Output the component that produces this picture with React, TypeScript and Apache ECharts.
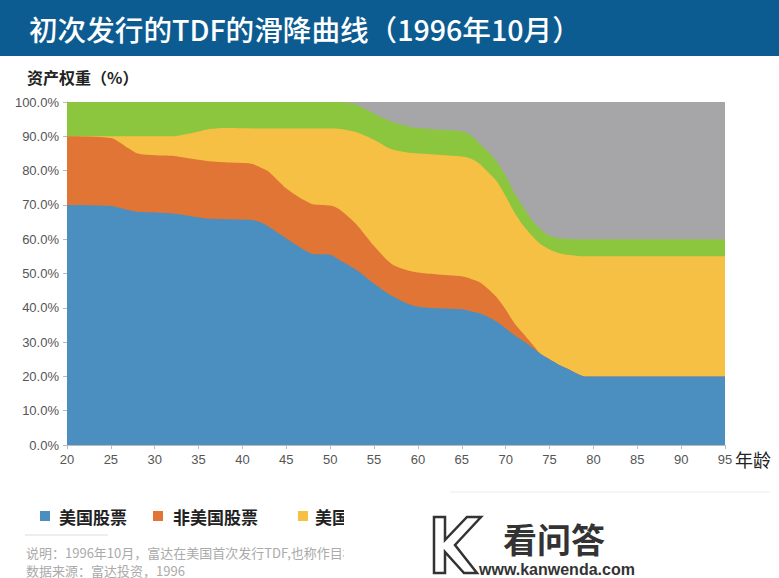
import React, { useEffect, useRef } from "react";
import * as echarts from "echarts";

const ages = [20, 25, 27, 28, 30, 32, 34, 36, 38, 41, 42, 43, 45, 47, 48, 50, 51, 53, 55, 57, 59, 60, 62, 65, 66, 67, 68, 69, 70, 71, 72, 73, 74, 75, 76, 77, 78, 79, 80, 85, 90, 95];
const usStocks = [70, 69.7, 68.5, 68, 67.8, 67.5, 66.8, 66, 65.8, 65.6, 65, 63.6, 60.2, 56.9, 55.7, 55.5, 54, 51, 47, 43.5, 41, 40.3, 39.9, 39.6, 39, 38.4, 37.3, 35.9, 34, 32, 30.3, 28.5, 26.5, 25, 23.5, 22.3, 21, 20, 20, 20, 20, 20];
const nonUsStocks = [20, 19.8, 18, 17, 16.7, 16.8, 16.7, 16.8, 16.6, 16.4, 16, 16.1, 14.6, 14.5, 14.5, 14.3, 14.8, 13.3, 11, 9.3, 9.8, 10, 9.9, 9.6, 9.5, 9.1, 8.2, 7.1, 5.5, 3.5, 2.2, 1, 0, 0, 0, 0, 0, 0, 0, 0, 0, 0];
const usBonds = [0, 0.5, 3.5, 5, 5.5, 5.7, 7.3, 9.2, 10, 10.3, 11.3, 12.6, 17.5, 20.9, 22.1, 22.5, 23.4, 26.9, 31, 33.4, 34.4, 34.7, 34.9, 34.9, 35, 34.5, 34, 33.8, 33, 32.3, 31.5, 31.5, 32, 32, 32.5, 33.2, 34.2, 35, 35, 35, 35, 35];
const shortTerm = [10, 10, 10, 10, 10, 10, 9.2, 8, 7.6, 7.7, 7.7, 7.7, 7.7, 7.7, 7.7, 7.7, 7.8, 8, 7.6, 8.1, 7.6, 7.4, 7.3, 7.4, 6.9, 6, 6, 5.8, 6, 5.7, 5.5, 4.5, 4.3, 4, 4.3, 4.6, 4.8, 5, 5, 5, 5, 5];
const others = [0, 0, 0, 0, 0, 0, 0, 0, 0, 0, 0, 0, 0, 0, 0, 0, 0, 0.8, 3.4, 5.7, 7.2, 7.6, 8, 8.5, 9.6, 12, 14.5, 17.4, 21.5, 26.5, 30.5, 34.5, 37.2, 39, 39.7, 39.9, 40, 40, 40, 40, 40, 40];

const seriesNames = ["美国股票", "非美国股票", "美国债券", "短期投资", "其他"];
const seriesColors = ["#4a8fbf", "#e07535", "#f6c044", "#8cc63f", "#a6a6a8"];
const legendNames = ["美国股票", "非美国股票", "美国债券"];

const titleText = "初次发行的TDF的滑降曲线（1996年10月）";
const yTitle = "资产权重（%）";
const xTitle = "年龄";
const note1 = "说明：1996年10月，富达在美国首次发行TDF,也称作目标日期基金";
const note2 = "数据来源：富达投资，1996";

const CJK = '"Noto Sans CJK SC", "Noto Sans", sans-serif';
const LAT = '"Liberation Sans", Arial, sans-serif';

export default function App() {
  const ref = useRef<HTMLDivElement>(null);
  useEffect(() => {
    if (!ref.current) return;
    const chart = echarts.init(ref.current, undefined, { renderer: "svg" });
    const dataSets = [usStocks, nonUsStocks, usBonds, shortTerm, others];
    // cumulative tops, computed from the component arrays
    const cumulative: number[][] = [];
    dataSets.forEach((arr, i) => {
      cumulative.push(arr.map((v, j) => +(v + (i > 0 ? cumulative[i - 1][j] : 0)).toFixed(2)));
    });
    // draw topmost first so lower layers sit on top
    const series = dataSets
      .map((_, i) => ({
        name: seriesNames[i],
        type: "line",
        smooth: 0.25,
        symbol: "none",
        z: 10 - i,
        lineStyle: { width: 0 },
        areaStyle: { color: seriesColors[i], opacity: 1, origin: "start" },
        itemStyle: { color: seriesColors[i] },
        data: ages.map((a, j) => [a, cumulative[i][j]]),
      }))
      .reverse();

    const legendX = [[40, 59], [153, 173], [298, 315]];
    const legendGraphics: any[] = [];
    legendNames.forEach((n, i) => {
      legendGraphics.push({
        type: "rect",
        shape: { x: legendX[i][0], y: 511, width: 10, height: 10 },
        style: { fill: seriesColors[i] },
        z: 100,
      });
      legendGraphics.push({
        type: "text",
        x: legendX[i][1],
        y: 516,
        style: { text: n, fill: "#222", font: `bold 17px ${CJK}`, textVerticalAlign: "middle" },
        z: 100,
      });
    });

    chart.setOption({
      animation: false,
      backgroundColor: "#ffffff",
      grid: { left: 67, right: 54, top: 102, bottom: 133 },
      xAxis: {
        type: "value",
        min: 20,
        max: 95,
        interval: 5,
        axisLine: { show: true, onZero: false, lineStyle: { color: "#bbbbbb" } },
        axisTick: { show: true, length: 4, lineStyle: { color: "#bbbbbb" } },
        axisLabel: { color: "#555", fontSize: 13, fontFamily: LAT, margin: 8 },
        splitLine: { show: false },
      },
      yAxis: {
        type: "value",
        min: 0,
        max: 100,
        interval: 10,
        axisLine: { show: true, onZero: false, lineStyle: { color: "#bbbbbb" } },
        axisTick: { show: true, length: 4, lineStyle: { color: "#bbbbbb" } },
        axisLabel: {
          color: "#555",
          fontSize: 13,
          fontFamily: LAT,
          margin: 8,
          formatter: (v: number) => v.toFixed(1) + "%",
        },
        splitLine: { show: false },
      },
      series,
      graphic: [
        { type: "rect", shape: { x: 0, y: 0, width: 779, height: 56 }, style: { fill: "#0d5c91" }, z: 100 },
        {
          type: "text",
          x: 29,
          y: 28,
          style: { text: titleText, fill: "#ffffff", font: `500 28.6px ${CJK}`, textVerticalAlign: "middle" },
          z: 101,
        },
        {
          type: "text",
          x: 27,
          y: 77,
          style: { text: yTitle, fill: "#222", font: `bold 16px ${CJK}`, textVerticalAlign: "middle" },
          z: 100,
        },
        {
          type: "text",
          x: 735,
          y: 459,
          style: { text: xTitle, fill: "#222", font: `18px ${CJK}`, textVerticalAlign: "middle" },
          z: 100,
        },
        ...legendGraphics,
        { type: "line", shape: { x1: 25, y1: 535, x2: 108, y2: 535 }, style: { stroke: "#dddddd", lineWidth: 1 }, z: 100 },
        {
          type: "text",
          x: 26,
          y: 552,
          style: { text: note1, fill: "#aaaaaa", font: `13px ${CJK}`, textVerticalAlign: "middle" },
          z: 100,
        },
        {
          type: "text",
          x: 26,
          y: 570,
          style: { text: note2, fill: "#aaaaaa", font: `13px ${CJK}`, textVerticalAlign: "middle" },
          z: 100,
        },
        { type: "rect", shape: { x: 344, y: 493, width: 435, height: 85 }, style: { fill: "#ffffff" }, z: 110 },
        { type: "line", shape: { x1: 450, y1: 492, x2: 770, y2: 492 }, style: { stroke: "#f6f6f6", lineWidth: 2 }, z: 111 },
        {
          type: "polygon",
          shape: {
            points: [
              [434, 517], [445, 517], [445, 540], [467, 517], [481, 517], [455, 545], [477, 573], [464, 573], [445, 552], [445, 573], [434, 573],
            ],
          },
          style: { fill: "#ffffff", stroke: "#333333", lineWidth: 2.5 },
          z: 112,
        },
        {
          type: "text",
          x: 503,
          y: 538,
          style: { text: "看问答", fill: "#333333", font: `bold 34px ${CJK}`, textVerticalAlign: "middle" },
          z: 112,
        },
        {
          type: "text",
          x: 479,
          y: 569,
          style: { text: "www.kanwenda.com", fill: "#333333", font: `bold 16px ${LAT}`, textVerticalAlign: "middle" },
          z: 112,
        },
      ],
    });
    return () => chart.dispose();
  }, []);
  return (
    <div
      ref={ref}
      style={{ position: "fixed", left: 0, top: 0, width: 779, height: 578, background: "#fff" }}
    />
  );
}
